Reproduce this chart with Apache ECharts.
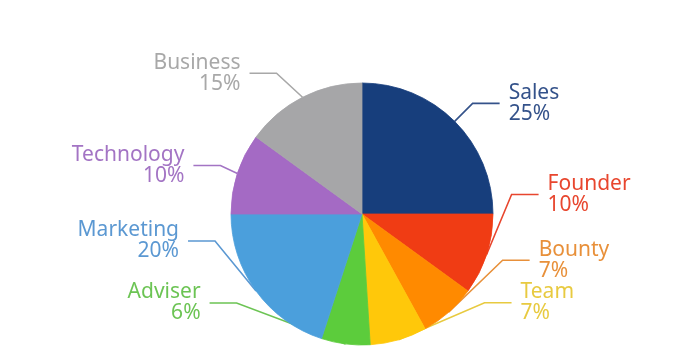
<!DOCTYPE html>
<html style="height: 100%">
<head>
    <meta charset="utf-8">
    <script src="https://cdn.jsdelivr.net/npm/echarts@6/dist/echarts.min.js"></script>
    <title>Token allocation pie</title>
</head>
<body style="height: 100%; margin: 0; background: #fff">
<div id="container" style="width: 680px; height: 353px"></div>
<script type="text/javascript">

    // shares, clockwise from 12 o'clock
    let names = ['Sales', 'Founder', 'Bounty', 'Team', 'Adviser', 'Marketing', 'Technology', 'Business']
    let shares = [25, 10, 7, 7, 6, 20, 10, 15]

    let sliceColors = ['#173e7c', '#f03c14', '#ff8a00', '#ffc80a', '#5ccc3c', '#4b9fdc', '#a46ac4', '#a6a6a8']
    let textColors = ['#34528a', '#e8462e', '#e8903a', '#e8ca40', '#6cc454', '#5b98d2', '#a374c4', '#a8a8a8']

    // where each leader line bends, relative to the slice edge
    let elbowOffsets = [[18, -18], [25, -60], [54, -52], [86, -37], [-109, -41], [-41, -50], [-17, -8], [-26, -24]]

    let pieData = names.map((n, i) => ({
        name: n,
        value: shares[i],
        itemStyle: {color: sliceColors[i], borderColor: sliceColors[i], borderWidth: 0.8},
        label: {color: textColors[i]},
        labelLine: {lineStyle: {color: textColors[i]}}
    }))

    let chart = echarts.init(document.getElementById('container'))
    chart.setOption({
        animation: false,
        series: [
            {
                type: 'pie',
                center: [362, 214],
                radius: 131,
                startAngle: 90,
                clockwise: true,
                avoidLabelOverlap: false,
                data: pieData,
                label: {
                    show: true,
                    position: 'outside',
                    fontFamily: 'Noto Sans',
                    fontSize: 21,
                    lineHeight: 21,
                    formatter: p => p.name + '\n' + p.value + '%'
                },
                labelLine: {
                    show: true,
                    length: 20,
                    length2: 27,
                    smooth: false,
                    lineStyle: {width: 1.6}
                },
                labelLayout: function (p) {
                    let edge = p.labelLinePoints[0]
                    let off = elbowOffsets[p.dataIndex]
                    let ex = edge[0] + off[0]
                    let ey = edge[1] + off[1]
                    let dir = off[0] > 0 ? 1 : -1
                    let endX = ex + dir * 27
                    return {
                        x: endX + dir * 9,
                        y: ey,
                        align: dir > 0 ? 'left' : 'right',
                        verticalAlign: 'middle',
                        labelLinePoints: [edge, [ex, ey], [endX, ey]]
                    }
                }
            }
        ]
    })

</script>
</body>
</html>
